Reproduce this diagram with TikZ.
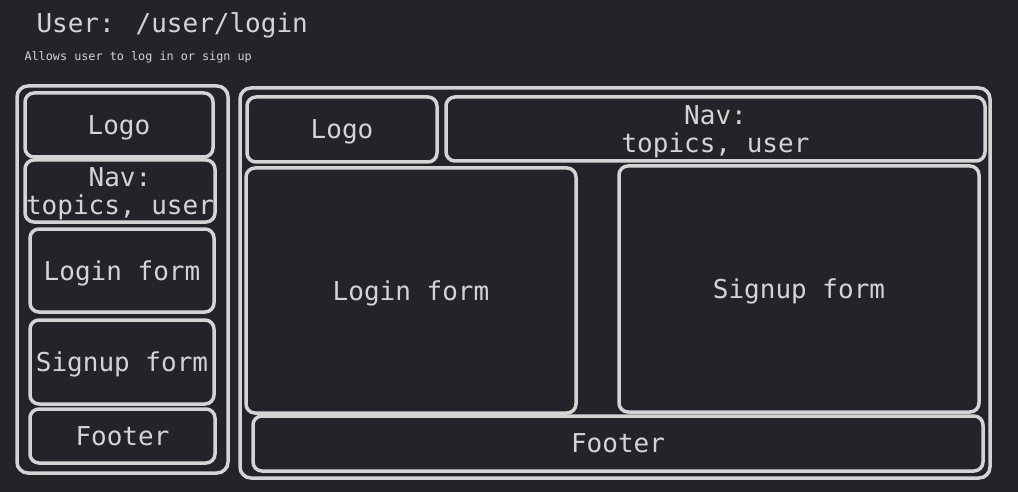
\documentclass[tikz,border=0pt]{standalone}
\usepackage{fontspec}
\usepackage{tikz}
\usetikzlibrary{positioning}
\newfontfamily\monofont{DejaVu Sans Mono}
\definecolor{boardbg}{RGB}{34,36,41}
\definecolor{chalk}{RGB}{212,212,212}
\tikzset{
x=1pt, y=-1pt, % coordinates are pixels of the page, y going down
every node/.style={text=chalk, font=\monofont\fontsize{26}{28}\selectfont},
block/.style={draw=chalk, line width=3.5pt, rounded corners=9pt, inner sep=0pt, align=center, text depth=0pt}, % sets the properties for each box of the sketch
}
\tikzset{
  frame/.append style={block, rounded corners=11pt}
}

\begin{document}
\begin{tikzpicture}
      \fill[boardbg] (0,0) rectangle (1018,492);
      \useasboundingbox (0,0) rectangle (1018,492);

      \node[anchor=base west] (title) at (33,33) {User: /user/login};
      \node[anchor=west, font=\monofont\fontsize{11.8}{13}\selectfont] (subtitle) at (21,57) {Allows user to log in or sign up};

      % narrow screen
      \node[frame, minimum width=211, minimum height=387] (small) at (122.5,279.5) {};
      \node[block, minimum width=188, minimum height=64] (sLogo) at (119,125) {Logo};
      \node[block, minimum width=190, minimum height=62] (sNav) at (120,191) {Nav:\\topics, user};
      \node[block, minimum width=184, minimum height=83] (sLogin) at (122,270.5) {Login form};
      \node[block, minimum width=184, minimum height=84] (sSignup) at (122,362) {Signup form};
      \node[block, minimum width=185, minimum height=54] (sFooter) at (122.5,436) {Footer};

      % wide screen
      \node[frame, minimum width=750, minimum height=390] (wide) at (615,283) {};
      \node[block, minimum width=190, minimum height=65] (wLogo) at (342,129.5) {Logo};
      \node[block, minimum width=539, minimum height=64] (wNav) at (715.5,129) {Nav:\\topics, user};
      \node[block, minimum width=330, minimum height=245] (wLogin) at (411,290.5) {Login form};
      \node[block, minimum width=360, minimum height=246] (wSignup) at (799,289) {Signup form};
      \node[block, minimum width=730, minimum height=55] (wFooter) at (618,443.5) {Footer};
    \end{tikzpicture}
\end{document}
